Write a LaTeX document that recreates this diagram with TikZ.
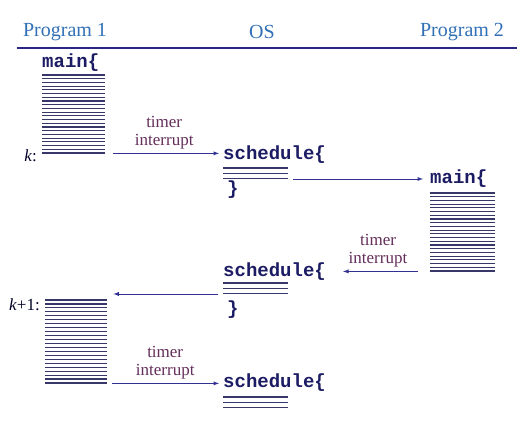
\documentclass[tikz,border=0pt]{standalone}
\usepackage{fontspec}
\setmainfont{Liberation Serif}
\setmonofont{Liberation Mono}
\usepackage{tikz}
\usetikzlibrary{positioning,calc,arrows}
\definecolor{headblue}{RGB}{50,112,182}
\definecolor{rulenavy}{RGB}{40,40,130}
\definecolor{codenavy}{RGB}{28,28,100}
\definecolor{lblpurple}{RGB}{100,45,90}
\definecolor{arrowblue}{RGB}{50,50,150}
\definecolor{linenavy}{RGB}{55,55,105}
\tikzset{head/.style={font=\fontsize{20}{24}\selectfont,text=headblue}}
\tikzset{code/.style={font=\fontsize{19}{22}\selectfont\ttfamily\bfseries,text=codenavy,inner sep=0pt,anchor=west}}
\tikzset{lbl/.style={font=\fontsize{17}{18}\selectfont,text=lblpurple,align=center}}
\tikzset{steplbl/.style={font=\fontsize{17}{20}\selectfont,text=black!85!blue,inner sep=0pt,anchor=east}}
\tikzset{stack/.style={inner sep=0pt,anchor=north west}}
\tikzset{codeline/.style={line width=1.1pt,draw=linenavy}}
\tikzset{arr/.style={->,>=latex,line width=0.9pt,draw=arrowblue}}

\begin{document}
\begin{tikzpicture}[x=1pt,y=-1pt]
  \useasboundingbox (0,0) rectangle (528,430);
  \node[head] (prog1) at (65,32) {Program 1};
  \node[head] (os) at (262,32) {OS};
  \node[head] (prog2) at (462,32) {Program 2};
  \draw[rulenavy,line width=1.5pt] (17,48) -- (517,48);
  \node[code] (main1) at (42,63) {main\{};
  \node[stack,minimum width=63pt,minimum height=78pt] (stk1) at (42,75) {};
        \foreach \i in {0,...,21}
          \draw[codeline] ($(stk1.north west)+(0,\i*3.714)$) -- ++(63,0);
  \node[steplbl] (k) at ([xshift=-5pt,yshift=-2pt]stk1.south west) {\textit{k}:};
  \node[code] (sched1) at (223,155) {schedule\{};
  \node[stack,minimum width=65pt,minimum height=10.6pt] (sl1) at (223,168) {};
        \foreach \i in {0,1,2}
          \draw[codeline] ($(sl1.north west)+(0,\i*5.3)$) -- ++(65,0);
  \node[code] (close1) at (227,190) {\}};
  \node[code] (main2) at (430,179) {main\{};
  \node[stack,minimum width=65pt,minimum height=78pt] (stk2) at (430,193) {};
        \foreach \i in {0,...,21}
          \draw[codeline] ($(stk2.north west)+(0,\i*3.714)$) -- ++(65,0);
  \node[code] (sched2) at (223,272) {schedule\{};
  \node[stack,minimum width=65pt,minimum height=10.6pt] (sl2) at (223,283) {};
        \foreach \i in {0,1,2}
          \draw[codeline] ($(sl2.north west)+(0,\i*5.3)$) -- ++(65,0);
  \node[code] (close2) at (227,310) {\}};
  \node[stack,minimum width=62pt,minimum height=83pt] (stk3) at (45,300) {};
        \foreach \i in {0,...,21}
          \draw[codeline] ($(stk3.north west)+(0,\i*3.952)$) -- ++(62,0);
  \node[steplbl] (k1) at ([xshift=-5pt,yshift=-5pt]stk3.north west) {\textit{k}+1:};
  \node[code] (sched3) at (223,383) {schedule\{};
  \node[stack,minimum width=65pt,minimum height=10.6pt] (sl3) at (223,397) {};
        \foreach \i in {0,1,2}
          \draw[codeline] ($(sl3.north west)+(0,\i*5.3)$) -- ++(65,0);
  \draw[arr,shorten <=8pt,shorten >=4pt] (stk1.south east) -- (stk1.south east -| sched1.west)
        node[lbl,above,midway] {timer\\interrupt};
  \draw[arr,shorten <=5pt,shorten >=7pt] (sl1.south east) -- (sl1.south east -| main2.west);
  \draw[arr,shorten <=12pt,shorten >=17pt] (stk2.south west) -- (stk2.south west -| sched2.east)
        node[lbl,above,midway] {timer\\interrupt};
  \draw[arr,shorten <=5pt,shorten >=6pt] (sl2.south west) -- (sl2.south west -| stk3.north east);
  \draw[arr,shorten <=5pt,shorten >=4pt] (stk3.south east) -- (stk3.south east -| sched3.west)
        node[lbl,above,midway] {timer\\interrupt};
\end{tikzpicture}
\end{document}
